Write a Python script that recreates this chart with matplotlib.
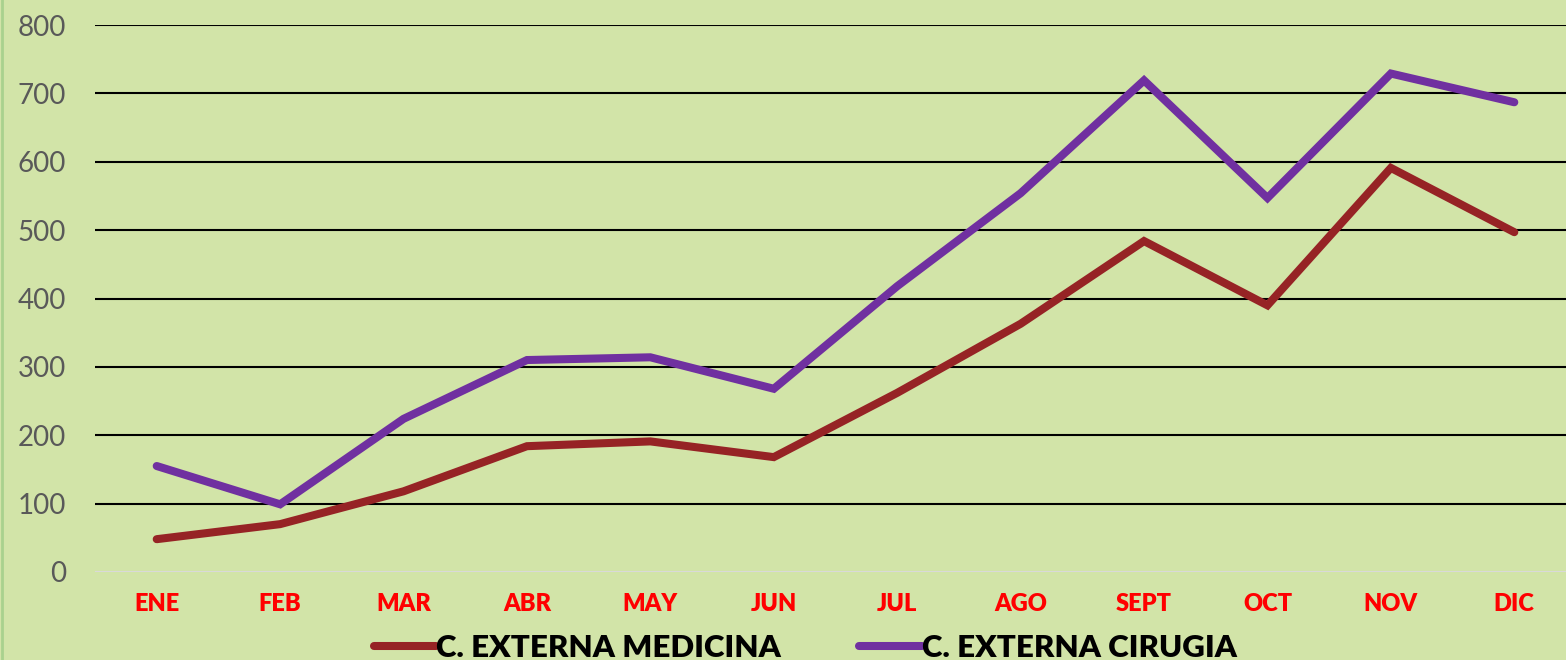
import matplotlib.pyplot as plt
from matplotlib.lines import Line2D

meses = ["ENE", "FEB", "MAR", "ABR", "MAY", "JUN", "JUL", "AGO", "SEPT", "OCT", "NOV", "DIC"]
medicina = [48, 70, 118, 184, 191, 168, 262, 363, 484, 390, 591, 497]
cirugia = [155, 99, 224, 310, 314, 268, 418, 554, 719, 547, 729, 687]

fondo = "#D2E4A8"
c_med = "#962325"
c_cir = "#7030A0"

plt.rcParams['font.family'] = ['Lato', 'DejaVu Sans']

fig = plt.figure(figsize=(15.66, 6.6), dpi=100, facecolor=fondo)
# plot area: x 95..1576 px, y 25..572 px
ax = fig.add_axes([95 / 1566, (660 - 572) / 660, 1481 / 1566, 547 / 660])
ax.set_facecolor(fondo)

x = range(len(meses))
ax.plot(x, medicina, color=c_med, lw=5.8, solid_capstyle="round", solid_joinstyle="miter")
ax.plot(x, cirugia, color=c_cir, lw=5.8, solid_capstyle="round", solid_joinstyle="miter")

ax.set_xlim(-0.5, len(meses) - 0.5)
ax.set_ylim(0, 800)
ax.set_yticks(range(0, 801, 100))
for v in range(100, 801, 100):
    ax.axhline(v, color="black", lw=1.5, zorder=0)
ax.axhline(0, color="#D9D9D9", lw=1.5, zorder=0)

ax.set_xticks(list(x))
ax.set_xticklabels(meses, color="#FF0000", fontsize=17, fontweight="heavy")
ax.tick_params(axis="y", labelsize=20, labelcolor="#595959", length=0, pad=21)
ax.tick_params(axis="x", length=0, pad=15)
for s in ax.spines.values():
    s.set_visible(False)

handles = [Line2D([], [], color=c_med, lw=5.8, solid_capstyle="round"),
           Line2D([], [], color=c_cir, lw=5.8, solid_capstyle="round")]
fig.legend(handles, ["C. EXTERNA MEDICINA", "C. EXTERNA CIRUGIA"], loc="center",
           bbox_to_anchor=(805 / 1566, (660 - 648) / 660), ncol=2, frameon=False,
           prop={"size": 22.5, "weight": "heavy"}, handlelength=2.0, handletextpad=0.0,
           columnspacing=2.5)

# thin green border on left edge
fig.add_artist(Line2D([0.001, 0.001], [0, 1], color="#A9D18E", lw=2, transform=fig.transFigure))

fig.savefig("out.png", dpi=100, facecolor=fondo)
